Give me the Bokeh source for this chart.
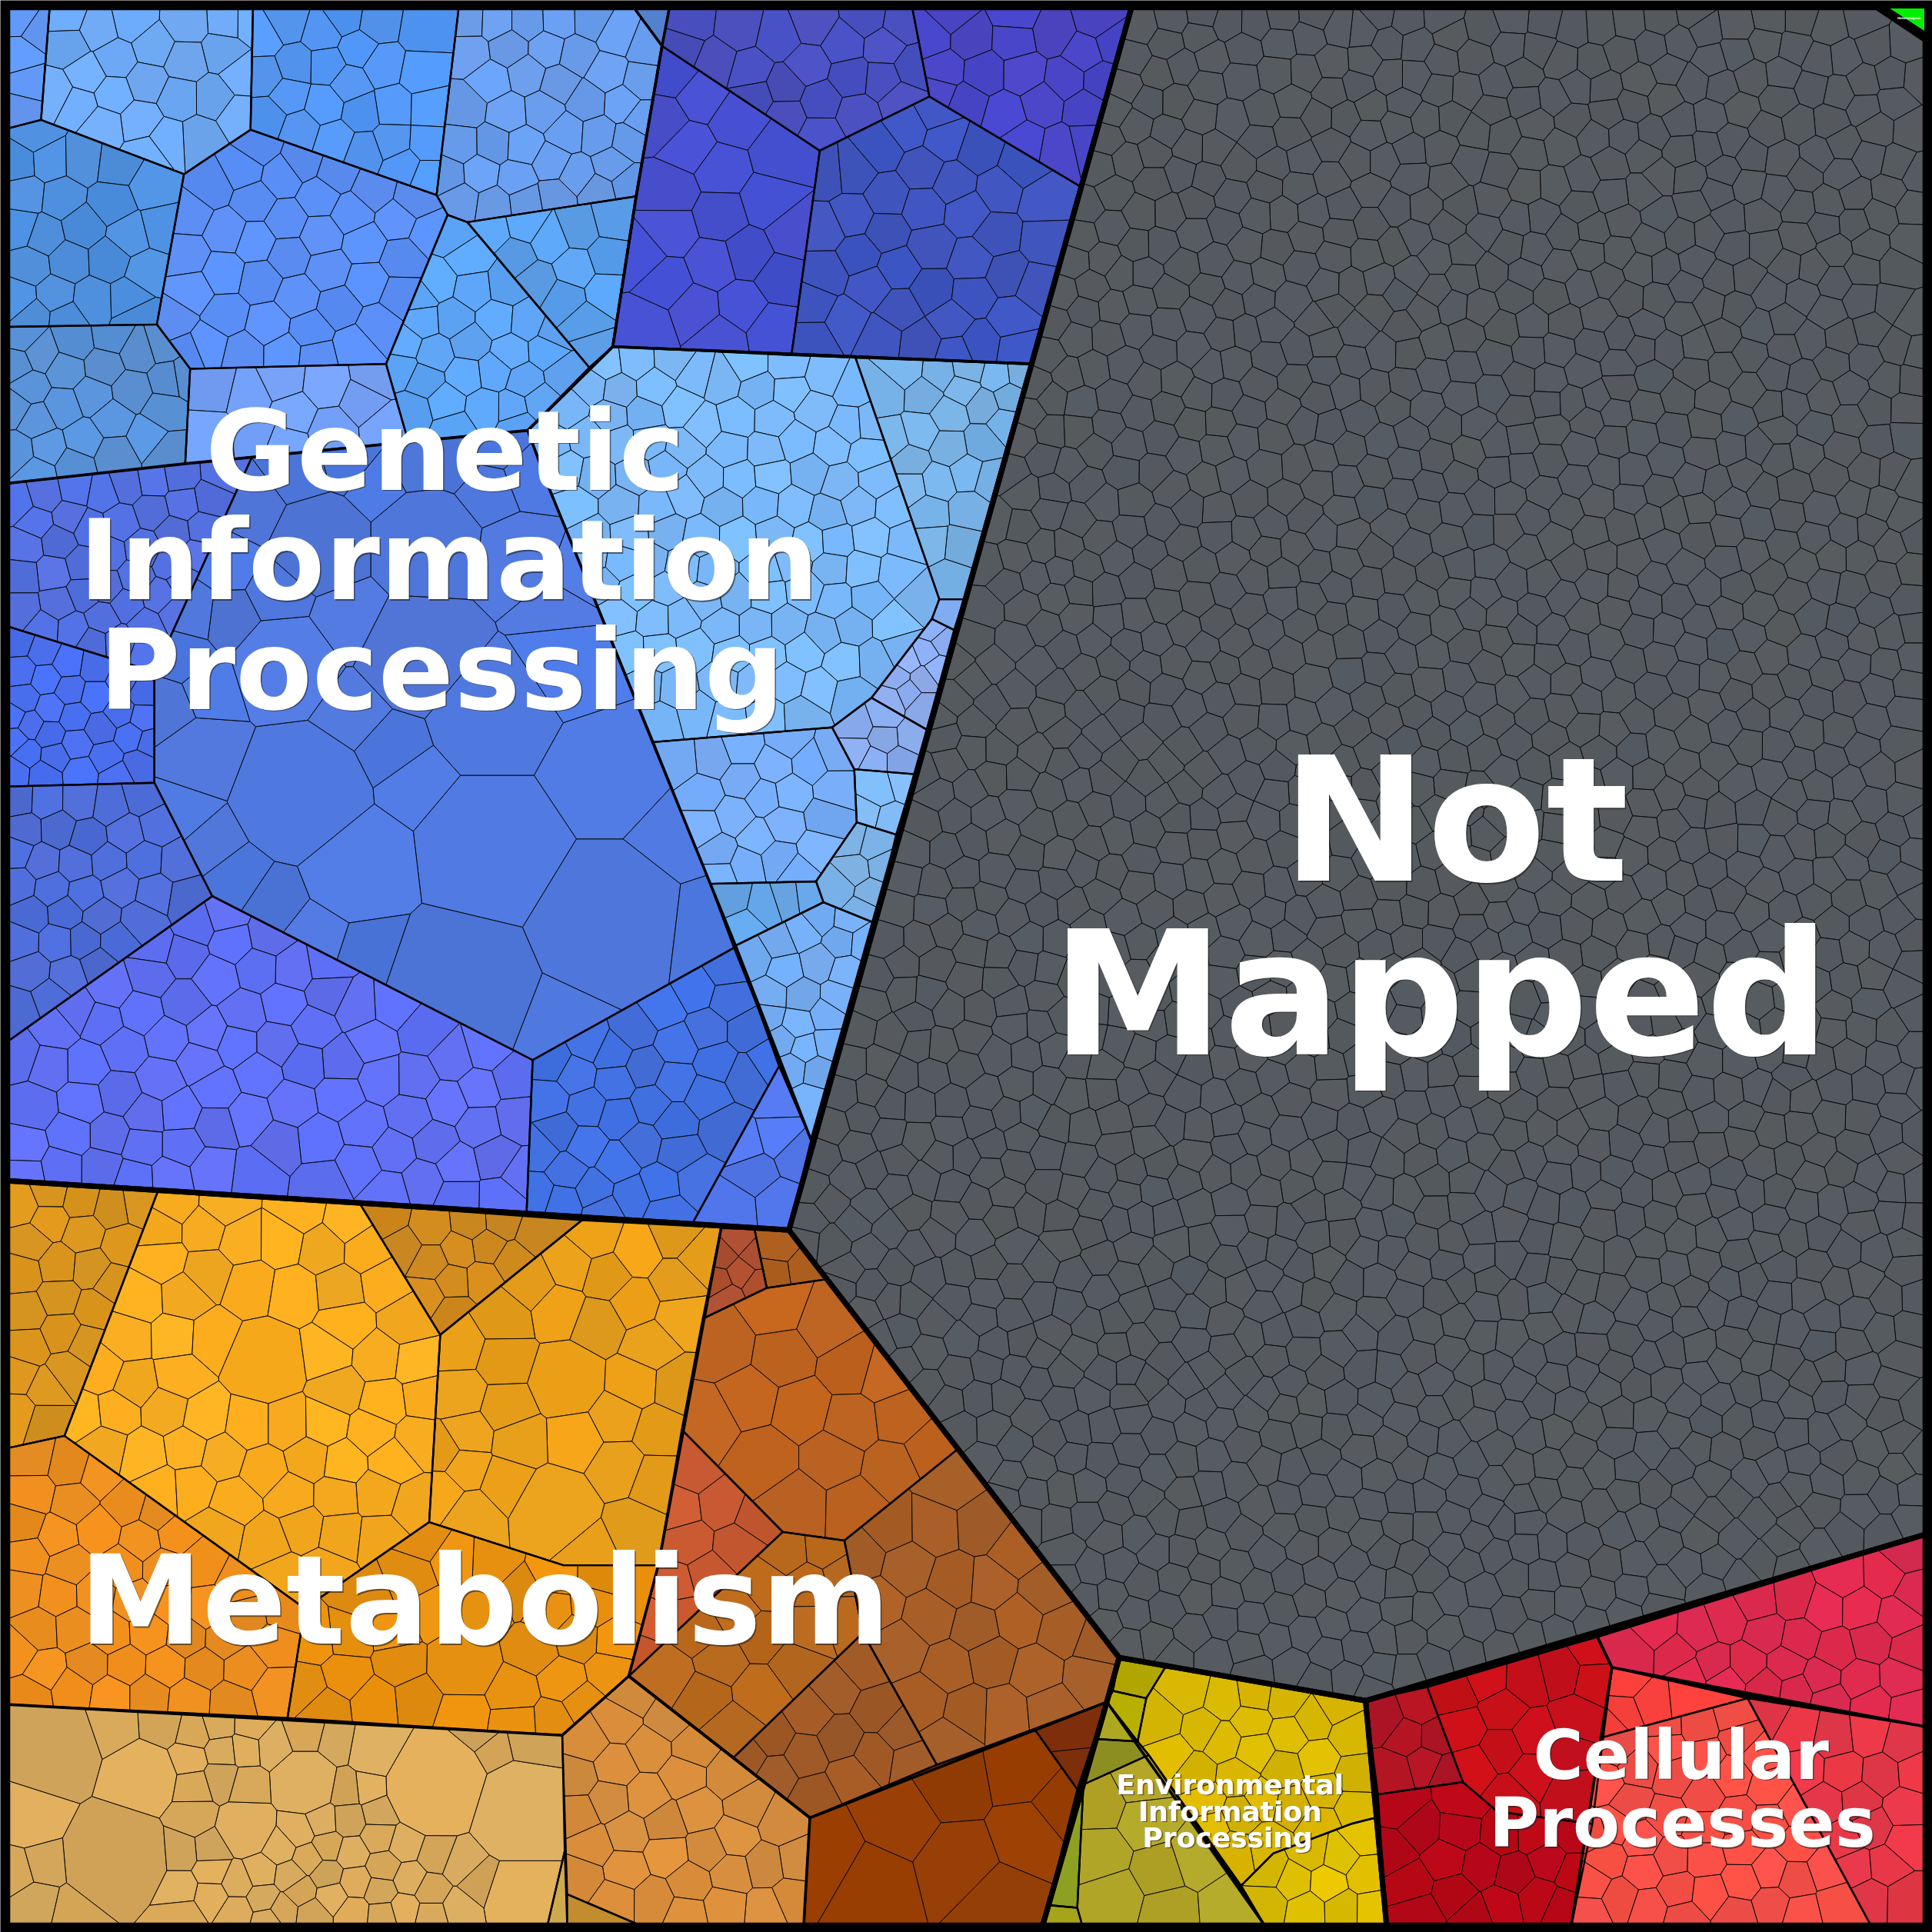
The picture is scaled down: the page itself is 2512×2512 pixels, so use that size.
import math
import numpy as np
from bokeh.embed import file_html
from bokeh.resources import INLINE
from bokeh.plotting import figure
from bokeh.models import Range1d, ColumnDataSource
from bokeh.core.properties import value

# Region outlines, colours and typical cell spacing are read from the picture.
# NOTE: individual small cells could not be transcribed, so their layout is a
# generated mosaic at each region's measured spacing, not measured cell data.
# The big cells in big_seeds are read from the picture.
regions = [
 ("A0",[(8,8),(40,8),(33,97),(8,104)],"#6398f5",27),
 ("A1",[(40,8),(205,8),(203,105),(149,141),(33,97)],"#6faaf6",30),
 ("A2",[(205,8),(372,8),(354,158),(203,105)],"#5498f6",30),
 ("A3",[(372,8),(514,8),(537,37),(516,159),(379,180),(363,174),(354,158)],"#6a9eee",29),
 ("A3b",[(514,8),(543,8),(537,37)],"#5a88d8",60),
 ("A4",[(149,141),(203,105),(354,158),(363,174),(313,295),(154,299),(127,263)],"#5c90f8",32),
 ("A5",[(8,104),(33,97),(149,141),(127,263),(8,265)],"#4f90de",30),
 ("A6",[(8,265),(127,263),(154,299),(150,376),(8,392)],"#5b94da",29),
 ("A7",[(154,299),(313,295),(331,358),(150,376)],"#75a2fb",32),
 ("A8",[(363,174),(379,180),(478,298),(428,349),(331,358),(313,295)],"#5fa7fa",28),
 ("A9",[(379,180),(516,159),(497,281),(478,298)],"#5ba2f0",29),
 ("B1",[(543,8),(740,8),(754,78),(665,122),(537,37)],"#4a50c0",31),
 ("B2",[(740,8),(918,8),(878,152),(754,78)],"#4a46c8",31),
 ("B3",[(537,37),(665,122),(642,288),(497,281),(516,159)],"#4650d0",38),
 ("B4",[(665,122),(754,78),(878,152),(836,295),(642,288)],"#3f55c0",33),
 ("C1",[(497,281),(694,290),(762,486),(756,502),(707,566),(675,590),(530,602),(445,395),(428,349),(478,298)],"#7cbafc",28),
 ("C2",[(694,290),(836,295),(782,486),(762,486)],"#78b2e6",27),
 ("C3",[(762,486),(782,486),(774,511),(756,502)],"#7aa5e8",20),
 ("C4",[(756,502),(774,511),(752,592),(707,566)],"#8fb0f5",19),
 ("C5",[(675,590),(707,566),(752,592),(742,628),(693,624)],"#8aabeb",22),
 ("C6",[(693,624),(742,628),(727,677),(695,667)],"#84bdf8",24),
 ("C7",[(695,667),(727,677),(710,749),(668,732),(662,715)],"#7fb5ea",24),
 ("C8",[(530,602),(675,590),(693,624),(695,667),(662,715),(576,717)],"#78aefa",28),
 ("C9",[(576,717),(662,715),(668,732),(595,768)],"#66a8ea",26),
 ("C10",[(595,768),(668,732),(710,749),(658,925)],"#75aef5",25),
 ("D1",[(8,392),(150,376),(204,371),(125,545),(8,508)],"#5470e0",25),
 ("D2",[(8,508),(125,545),(125,635),(8,638)],"#4a6ff0",22),
 ("D3",[(8,638),(125,635),(172,727),(8,845)],"#4f6dd8",27),
 ("D4",[(8,845),(172,727),(432,860),(427,985),(8,958)],"#6070f5",33),
 ("D5",[(432,860),(597,768),(632,865),(562,992),(427,985)],"#4270e0",30),
 ("D6",[(632,865),(658,925),(640,998),(562,992)],"#5278f0",31),
 ("E",[(204,371),(428,349),(445,395),(597,768),(432,860),(172,727),(125,635),(125,545)],"#4f78de",36),
 ("M1",[(8,958),(128,966),(52,1165),(8,1175)],"#d9951f",30),
 ("M2",[(128,966),(292,977),(357,1083),(348,1235),(247,1305),(52,1165)],"#fbae20",34),
 ("M3",[(292,977),(472,990),(357,1083)],"#d08a1e",26),
 ("M4",[(472,990),(585,996),(534,1270),(457,1270),(348,1235),(357,1083)],"#eaa01a",35),
 ("M5",[(8,1175),(52,1165),(247,1305),(233,1394),(8,1383)],"#ee8f1f",31),
 ("M6",[(247,1305),(348,1235),(457,1270),(534,1270),(510,1360),(456,1408),(233,1394)],"#e8900f",34),
 ("M7",[(8,1383),(456,1408),(458,1502),(444,1560),(8,1560)],"#d9aa5c",23),
 ("M7b",[(458,1502),(460,1560),(444,1560)],"#d4b050",60),
 ("M8",[(456,1408),(510,1360),(595,1426),(657,1475),(652,1560),(519,1560),(460,1537)],"#d98f3e",32),
 ("M8b",[(460,1537),(519,1560),(460,1560)],"#c99535",60),
 ("M9",[(553,1160),(635,1243),(510,1360),(534,1270)],"#cb5a30",34),
 ("M10",[(585,996),(612,997),(622,1045),(570,1070)],"#b05030",22),
 ("M10b",[(612,997),(640,998),(670,1038),(622,1045)],"#b0601f",26),
 ("M11",[(570,1070),(622,1045),(670,1038),(778,1175),(685,1250),(635,1243),(553,1160)],"#bf6420",43),
 ("M12",[(635,1243),(685,1250),(700,1325),(595,1426),(510,1360)],"#ba6a1e",37),
 ("M13",[(700,1325),(760,1432),(657,1475),(595,1426)],"#a05a28",33),
 ("M14",[(685,1250),(778,1175),(907,1344),(898,1381),(760,1432),(700,1325)],"#a85f28",39),
 ("M15",[(657,1475),(760,1432),(840,1404),(874,1452),(846,1560),(652,1560)],"#983f05",60),
 ("M15b",[(840,1404),(898,1381),(874,1452)],"#7f2f0c",26),
 ("Y1",[(908,1345),(946,1352),(930,1378),(903,1372)],"#b5aa00",60),
 ("Y2",[(903,1372),(930,1378),(923,1413),(898,1381)],"#bdb400",60),
 ("Y3",[(946,1352),(1108,1380),(1116,1475),(1096,1480),(1033,1504),(1007,1530),(932,1424),(923,1413),(930,1378)],"#dcb800",29),
 ("Y4",[(1033,1504),(1096,1480),(1116,1475),(1125,1560),(1026,1560),(1007,1530)],"#e0c000",28),
 ("O1",[(898,1381),(923,1413),(889,1411)],"#b5ad20",60),
 ("O2",[(889,1411),(923,1413),(932,1424),(879,1448)],"#8a8a20",24),
 ("O3",[(879,1448),(932,1424),(1026,1560),(878,1560),(874,1548)],"#b5a828",44),
 ("O4",[(879,1448),(874,1548),(852,1546)],"#8fa020",28),
 ("O5",[(852,1546),(874,1548),(878,1560),(846,1560)],"#a8a820",60),
 ("R1",[(1296,1328),(1560,1245),(1560,1401),(1308,1353)],"#e02b50",30),
 ("R2a",[(1158,1369),(1187,1446),(1118,1456),(1108,1380)],"#b01525",26),
 ("R2b",[(1158,1369),(1296,1328),(1308,1353),(1292,1480),(1215,1470),(1187,1446)],"#c8101a",33),
 ("R2c",[(1118,1456),(1187,1446),(1215,1470),(1292,1480),(1275,1560),(1125,1560)],"#b80818",32),
 ("R3a",[(1308,1353),(1418,1378),(1299,1410)],"#f8403c",28),
 ("R3b",[(1299,1410),(1418,1378),(1518,1560),(1275,1560)],"#f85048",29),
 ("R3c",[(1418,1378),(1560,1401),(1560,1560),(1518,1560)],"#e83848",29),
 ("NM",[(918,8),(1523,8),(1560,32),(1560,1245),(1108,1380),(908,1345),(640,998),(836,295)],"#565b60",25.5),
 ("HET",[(1531,8),(1560,8),(1560,26)],"#00ee00",90),
]

# Large cells: region -> (x, y, radius)
big_seeds = {
 "E": [(243,645,52),(400,690,58),(290,703,42),(375,795,56),(490,745,58),(400,580,45),(490,630,42),
       (260,440,36),(345,440,40),(420,450,26),(230,540,36),(340,530,42),(165,615,28),(460,540,30)],
 "M7": [(40,1421,36),(94,1507,40),(115,1442,26),(354,1448,40),(422,1469,38),(247,1446,24),
        (199,1484,20),(24,1471,24),(422,1540,26),(305,1420,20)],
 "M2": [(215,1105,30)],
 "M4": [(460,1120,26),(450,1225,30)],
 "M6": [(375,1350,26)],
}

group_outlines = [
 [(8,8),(514,8),(537,37),(516,159),(497,281),(428,349),(150,376),(8,392)],
 [(543,8),(918,8),(836,295),(497,281),(516,159),(537,37)],
 [(497,281),(836,295),(658,925),(597,768),(445,395),(428,349)],
 [(585,996),(640,998),(907,1344),(898,1381),(657,1475),(510,1360),(534,1270)],
 [(8,1383),(456,1408),(510,1360),(657,1475),(652,1560),(8,1560)],
 [(898,1381),(1026,1560),(846,1560)],
 [(1296,1328),(1560,1245),(1560,1401),(1308,1353)],
 [(1108,1380),(1296,1328),(1308,1353),(1275,1560),(1125,1560)],
]
major_outlines = [
 [(8,8),(918,8),(640,998),(8,958)],
 [(918,8),(1523,8),(1560,32),(1560,1245),(1108,1380),(908,1345),(640,998)],
 [(8,958),(640,998),(908,1345),(898,1381),(846,1560),(8,1560)],
 [(908,1345),(1108,1380),(1125,1560),(846,1560),(898,1381)],
 [(1108,1380),(1560,1245),(1560,1560),(1125,1560)],
]

labels = ["Genetic","Information","Processing","Not","Mapped","Metabolism","Cellular","Processes",
          "Environmental","Information","Processing","Heterologous"]
label_x = [361,364,358,1181,1169,393,1364,1365,998,998,996,1549]
label_y = [398,487,576,716,857,1335,1444,1499,1456,1478,1499,15]
label_px = [145,145,145,225,225,161,89,89,36,36,36,4]


def snap(v):
    # the outer edges sit under the frame so that its inner edge falls where the picture has it
    return 5.8 if v == 8 else (1562.2 if v == 1560 else float(v))


def snapped(poly):
    return [(snap(a), snap(b)) for a, b in poly]


def inside(pt, poly):
    x, y = pt
    c = False
    for i in range(len(poly)):
        x1, y1 = poly[i]
        x2, y2 = poly[(i + 1) % len(poly)]
        if (y1 > y) != (y2 > y) and x < (x2 - x1) * (y - y1) / (y2 - y1) + x1:
            c = not c
    return c


def centroid(poly):
    a = cx = cy = 0.0
    for i in range(len(poly)):
        x1, y1 = poly[i]
        x2, y2 = poly[(i + 1) % len(poly)]
        w = x1 * y2 - x2 * y1
        a += w
        cx += (x1 + x2) * w
        cy += (y1 + y2) * w
    if abs(a) < 1e-9:
        return tuple(np.mean(poly, axis=0))
    return cx / (3 * a), cy / (3 * a)


def clip(poly, nx, ny, d):
    out = []
    n = len(poly)
    for i in range(n):
        p, q = poly[i], poly[(i + 1) % n]
        sp = nx * p[0] + ny * p[1] - d
        sq = nx * q[0] + ny * q[1] - d
        if sp <= 0:
            out.append(p)
        if (sp < 0 < sq) or (sq < 0 < sp):
            t = sp / (sp - sq)
            out.append((p[0] + t * (q[0] - p[0]), p[1] + t * (q[1] - p[1])))
    return out


def mosaic_seeds(poly, s, idx, bigs):
    pts = []
    cx, cy = centroid(poly)
    ang = (idx * 0.7) % (math.pi / 3)
    ca, sa = math.cos(ang), math.sin(ang)
    xs = [p[0] for p in poly]
    ys = [p[1] for p in poly]
    R = max(max(xs) - min(xs), max(ys) - min(ys)) + s
    h = s * 0.866
    n = 1 + idx * 97
    for j in range(-int(R / h) - 1, int(R / h) + 2):
        for i in range(-int(R / s) - 1, int(R / s) + 2):
            n += 1
            u = (i + 0.5 * (j % 2)) * s + ((n * 0.7549 + n * n * 0.0137) % 1 - 0.5) * 0.62 * s
            v = j * h + ((n * 0.5698 + n * n * 0.0091) % 1 - 0.5) * 0.62 * s
            x, y = cx + u * ca - v * sa, cy + u * sa + v * ca
            if not inside((x, y), poly):
                continue
            if any(math.hypot(x - b[0], y - b[1]) < b[2] + s * 0.5 for b in bigs):
                continue
            pts.append((x, y, s * 0.5))
    return pts


def cells(poly, seeds):
    arr = np.array(seeds, dtype=float)
    res = []
    bigidx = np.where(arr[:, 2] > np.median(arr[:, 2]) * 1.3)[0]
    for k in range(len(arr)):
        ax, ay, ar = arr[k]
        d = (arr[:, 0] - ax) ** 2 + (arr[:, 1] - ay) ** 2
        nb = set(np.argsort(d)[:22].tolist()) | set(bigidx.tolist())
        cell = list(poly)
        for m in sorted(nb, key=lambda q: d[q]):
            if m == k:
                continue
            bx, by, br = arr[m]
            nx, ny = 2 * (bx - ax), 2 * (by - ay)
            c = bx * bx + by * by - ax * ax - ay * ay + ar * ar - br * br
            cell = clip(cell, nx, ny, c)
            if len(cell) < 3:
                break
        if len(cell) >= 3:
            res.append(cell)
    return res


def shade(hexcol, n, amount):
    r, g, b = int(hexcol[1:3], 16), int(hexcol[3:5], 16), int(hexcol[5:7], 16)
    v1 = (n * 0.6180339 + n * n * 0.00713) % 1 - 0.5
    v2 = (n * 0.3247 + n * n * 0.00411) % 1 - 0.5
    f = 1 + amount * v1
    r, g, b = r * f + 70 * amount * v2, g * f, b * f - 70 * amount * v2
    return "#%02x%02x%02x" % tuple(int(max(0, min(255, c))) for c in (r, g, b))


xs, ys, fills = [], [], []
n = 0
for idx, (name, poly, col, s) in enumerate(regions):
    poly = snapped(poly)
    bigs = big_seeds.get(name, [])
    seeds = [tuple(map(float, b)) for b in bigs] + mosaic_seeds(poly, s, idx, bigs)
    if not seeds:
        seeds = [(*centroid(poly), s * 0.5)]
    if len(seeds) > 1:
        # one relaxation pass so that the mosaic looks like a centroidal tessellation
        first = cells(poly, seeds)
        if len(first) == len(seeds):
            seeds = [seeds[i] if i < len(bigs) else (*centroid(first[i]), s * 0.5) for i in range(len(seeds))]
    amount = 0.0 if name == "HET" else (0.04 if name == "NM" else 0.10)
    for cell in cells(poly, seeds):
        n += 1
        xs.append([c[0] for c in cell])
        ys.append([c[1] for c in cell])
        fills.append(shade(col, n, amount))

p = figure(width=2512, height=2512, x_range=Range1d(0, 1568), y_range=Range1d(1568, 0),
           output_backend="svg", toolbar_location=None, min_border=0,
           x_axis_type=None, y_axis_type=None,
           background_fill_color="#000000", border_fill_color="#000000", outline_line_color=None)
p.xgrid.visible = False
p.ygrid.visible = False

p.patches("x", "y", source=ColumnDataSource(dict(x=xs, y=ys, c=fills)), fill_color="c",
          line_color="#0a0a0a", line_width=1.0)


def draw_outlines(polys, width):
    polys = [snapped(q) for q in polys]
    p.patches([[c[0] for c in r] for r in polys], [[c[1] for c in r] for r in polys],
              fill_color=None, line_color="#000000", line_width=width)


draw_outlines([r[1] for r in regions], 2.4)
draw_outlines(group_outlines, 3.6)
draw_outlines(major_outlines, 7)

for tx, ty, t, sz in zip(label_x, label_y, labels, label_px):
    lift = -0.358 * sz
    off = 0 if sz < 10 else 1.5
    if off:
        p.text([tx], [ty], text=[t], text_font=value("DejaVu Sans"), text_font_style="bold",
               text_font_size=f"{sz}px", text_align="center", text_baseline="alphabetic",
               text_color="#222222", text_alpha=0.6, x_offset=off, y_offset=lift + off)
    p.text([tx], [ty], text=[t], text_font=value("DejaVu Sans"), text_font_style="bold",
           text_font_size=f"{sz}px", text_align="center", text_baseline="alphabetic",
           text_color="#ffffff", y_offset=lift)

open("out.html", "w").write(file_html(p, INLINE))
